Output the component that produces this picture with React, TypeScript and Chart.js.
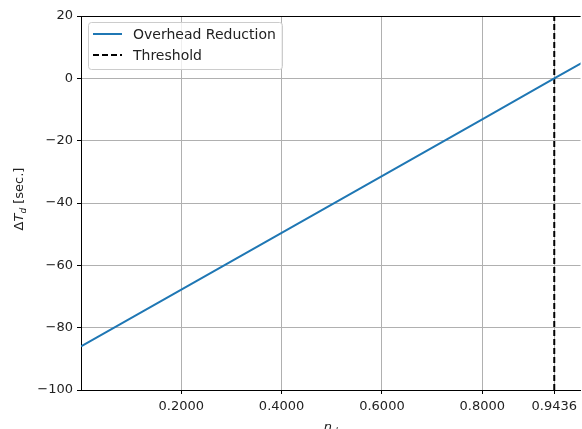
import React, { useEffect, useRef } from "react";
import { Chart, registerables } from "chart.js";
Chart.register(...registerables);

const reductionX = [0, 0.2, 0.4, 0.6, 0.8, 0.9436, 1.0];
const reductionY = [-86, -67.8, -49.6, -31.4, -13.2, 0, 5.1];
const thresholdX = [0.9436, 0.9436];
const thresholdY = [-100, 20];
const xTicks = [0.2, 0.4, 0.6, 0.8, 0.9436];
const yTicks = [20, 0, -20, -40, -60, -80, -100];
const seriesLabels = ["Overhead Reduction", "Threshold"];

const FONT = "'DejaVu Sans', sans-serif";
const BLUE = "#1f77b4";

const overlay = {
  id: "overlay",
  afterDraw(chart: any) {
    const ctx = chart.ctx as CanvasRenderingContext2D;
    const a = chart.chartArea;
    ctx.save();
    // top spine
    ctx.strokeStyle = "#000";
    ctx.lineWidth = 1;
    ctx.beginPath();
    ctx.moveTo(a.left, a.top + 0.5);
    ctx.lineTo(a.right, a.top + 0.5);
    ctx.stroke();

    // legend
    const lx = 88.5, ly = 22.5, lw = 194, lh = 47, r = 3;
    ctx.beginPath();
    ctx.moveTo(lx + r, ly);
    ctx.lineTo(lx + lw - r, ly);
    ctx.arcTo(lx + lw, ly, lx + lw, ly + r, r);
    ctx.lineTo(lx + lw, ly + lh - r);
    ctx.arcTo(lx + lw, ly + lh, lx + lw - r, ly + lh, r);
    ctx.lineTo(lx + r, ly + lh);
    ctx.arcTo(lx, ly + lh, lx, ly + lh - r, r);
    ctx.lineTo(lx, ly + r);
    ctx.arcTo(lx, ly, lx + r, ly, r);
    ctx.closePath();
    ctx.fillStyle = "rgba(255,255,255,0.8)";
    ctx.fill();
    ctx.strokeStyle = "#cccccc";
    ctx.lineWidth = 1;
    ctx.stroke();

    const rows = [34, 55];
    ctx.lineWidth = 2;
    ctx.strokeStyle = BLUE;
    ctx.setLineDash([]);
    ctx.beginPath();
    ctx.moveTo(93, rows[0]);
    ctx.lineTo(122, rows[0]);
    ctx.stroke();
    ctx.strokeStyle = "#000";
    ctx.setLineDash([6, 3]);
    ctx.beginPath();
    ctx.moveTo(93, rows[1]);
    ctx.lineTo(122, rows[1]);
    ctx.stroke();
    ctx.setLineDash([]);
    ctx.fillStyle = "#222";
    ctx.font = `14px ${FONT}`;
    ctx.textBaseline = "middle";
    ctx.textAlign = "left";
    ctx.fillText(seriesLabels[0], 133, rows[0] + 1);
    ctx.fillText(seriesLabels[1], 133, rows[1] + 1);

    // y title: ΔT_d [sec.]
    ctx.save();
    ctx.translate(18, 199);
    ctx.rotate(-Math.PI / 2);
    ctx.textBaseline = "alphabetic";
    const fN = `13px ${FONT}`;
    const fI = `italic 13px ${FONT}`;
    const fS = `italic 9px ${FONT}`;
    const parts: [string, string, number][] = [
      ["Δ", fN, 0],
      ["T", fI, 0],
      ["d", fS, 3],
      [" [sec.]", fN, 0],
    ];
    let total = 0;
    for (const [t, f] of parts) {
      ctx.font = f;
      total += ctx.measureText(t).width;
    }
    let x = -total / 2;
    for (const [t, f, dy] of parts) {
      ctx.font = f;
      ctx.fillText(t, x, 5 + dy);
      x += ctx.measureText(t).width;
    }
    ctx.restore();

    // x title: n_d
    const xp: [string, string, number][] = [
      ["n", fI, 0],
      ["d", fS, 3],
    ];
    let tw = 0;
    for (const [t, f] of xp) {
      ctx.font = f;
      tw += ctx.measureText(t).width;
    }
    let xx = (a.left + a.right) / 2 - tw / 2;
    ctx.textBaseline = "alphabetic";
    for (const [t, f, dy] of xp) {
      ctx.font = f;
      ctx.fillText(t, xx, 431 + dy);
      xx += ctx.measureText(t).width;
    }
    ctx.restore();
  },
};

export default function App() {
  const ref = useRef<HTMLCanvasElement>(null);
  useEffect(() => {
    if (!ref.current) return;
    const chart = new Chart(ref.current, {
      type: "line",
      data: {
        datasets: [
          {
            label: seriesLabels[0],
            data: reductionX.map((x, i) => ({ x, y: reductionY[i] })),
            borderColor: BLUE,
            borderWidth: 2,
            pointRadius: 0,
            fill: false,
            tension: 0,
          },
          {
            label: seriesLabels[1],
            data: thresholdX.map((x, i) => ({ x, y: thresholdY[i] })),
            borderColor: "#000",
            borderWidth: 2,
            borderDash: [6, 3],
            pointRadius: 0,
            fill: false,
          },
        ],
      },
      options: {
        animation: false,
        responsive: false,
        devicePixelRatio: 1,
        layout: { padding: { left: 0, top: 16, right: 0, bottom: 0 } },
        plugins: { legend: { display: false }, tooltip: { enabled: false } },
        scales: {
          x: {
            type: "linear",
            min: 0,
            max: 0.996,
            afterBuildTicks: (s: any) => {
              s.ticks = xTicks.map((v) => ({ value: v }));
            },
            afterFit: (s: any) => {
              s.height = 39;
            },
            ticks: {
              autoSkip: false,
              maxRotation: 0,
              padding: 5,
              color: "#222",
              font: { family: FONT, size: 13 },
              callback: (v: any) => Number(v).toFixed(4),
            },
            grid: { color: "#b0b0b0", lineWidth: 1, tickLength: 4, tickColor: "#000", drawTicks: true },
            border: { color: "#000", width: 1 },
          },
          y: {
            type: "linear",
            min: -100,
            max: 20,
            afterBuildTicks: (s: any) => {
              s.ticks = yTicks.map((v) => ({ value: v }));
            },
            afterFit: (s: any) => {
              s.width = 81;
            },
            ticks: {
              autoSkip: false,
              padding: 4,
              color: "#222",
              font: { family: FONT, size: 13 },
              callback: (v: any) => (Number(v) < 0 ? "\u2212" + Math.abs(Number(v)) : String(v)),
            },
            grid: { color: "#b0b0b0", lineWidth: 1, tickLength: 4, tickColor: "#000", drawTicks: true },
            border: { color: "#000", width: 1 },
          },
        },
      },
      plugins: [overlay],
    } as any);
    return () => chart.destroy();
  }, []);
  return (
    <div style={{ position: "absolute", left: 0, top: 0, width: 582, height: 429, background: "#fff" }}>
      <canvas ref={ref} width={582} height={429} style={{ width: 582, height: 429, display: "block" }} />
    </div>
  );
}
